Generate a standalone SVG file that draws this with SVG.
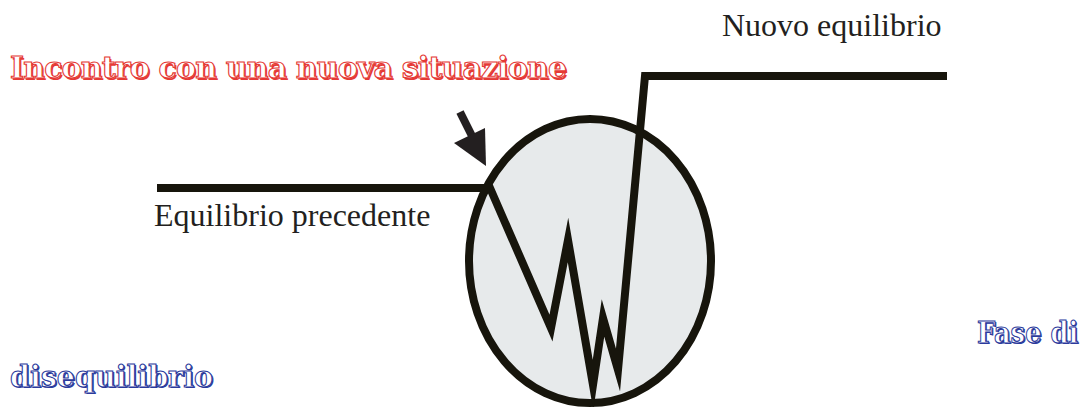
<svg xmlns="http://www.w3.org/2000/svg" width="1088" height="407" viewBox="0 0 1088 407">
<style>
.lbl{font-family:"Liberation Serif","Times New Roman",serif;font-size:32px;fill:#231f20}
.fx{font-family:"DejaVu Serif","Liberation Serif",serif;font-weight:bold;font-size:30px}
.red .sh{fill:#e53935}
.red .fg{fill:#ffffff;stroke:#e53935;stroke-width:1.1}
.blue .sh{fill:#2b3a9c}
.blue .fg{fill:#ffffff;stroke:#2b3a9c;stroke-width:1.1}
.ln{fill:none;stroke:#17150c;stroke-width:8;stroke-linejoin:miter;stroke-miterlimit:10}
</style>
<rect width="1088" height="407" fill="#ffffff"/>
<g id="circle">
<ellipse cx="590" cy="261" rx="121" ry="142" fill="#e7eaeb" stroke="#17150c" stroke-width="8"/>
</g>
<g id="connectors">
<polyline class="ln" points="157,188 490,188 551,328 568,240 593,385 603,318 618,370 645,76 947,76"/>
<line x1="460" y1="112" x2="474" y2="140" stroke="#231f20" stroke-width="8"/>
<polygon points="454,143 485,128 486,166" fill="#231f20"/>
</g>
<g id="label-nuovo">
<text class="lbl" x="722" y="36">Nuovo equilibrio</text>
</g>
<g id="label-precedente">
<text class="lbl" x="154" y="226">Equilibrio precedente</text>
</g>
<g id="label-incontro" class="red">
<text class="fx sh" x="11.5" y="79.5" textLength="557" lengthAdjust="spacing">Incontro con una nuova situazione</text>
<text class="fx fg" x="10" y="78" textLength="557" lengthAdjust="spacing">Incontro con una nuova situazione</text>
</g>
<g id="label-fase" class="blue">
<g transform="translate(977,342.5) scale(0.86,1)">
<text class="fx sh" x="1.5" y="1.5">Fase di</text>
<text class="fx fg" x="0" y="0">Fase di</text>
</g>
<text class="fx sh" x="11.5" y="388" textLength="203" lengthAdjust="spacingAndGlyphs">disequilibrio</text>
<text class="fx fg" x="10" y="386.5" textLength="203" lengthAdjust="spacingAndGlyphs">disequilibrio</text>
</g>
</svg>
